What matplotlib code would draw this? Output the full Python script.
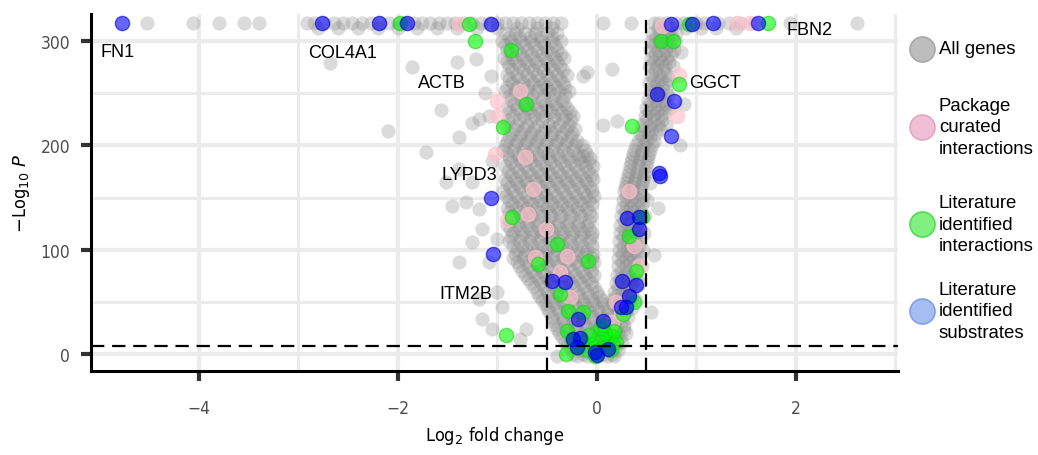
import matplotlib.pyplot as plt
from matplotlib.lines import Line2D
from matplotlib import font_manager as fm

# ---- data ----
top_y = 317
grey_top = [-4.52, -4.06, -3.79, -3.54, -3.39, -2.91, -2.84, -2.74, -2.64, -2.55, -2.46,
            -2.36, -2.27, -2.18, -2.09, -2.0, -1.92, -1.83, -1.75, -1.67, -1.58, -1.5,
            -1.42, -1.33, -1.25, -1.16, -1.08, -1.0, -0.92, -0.84, -0.76, -0.68, -0.6,
            -0.52, -0.44, -0.36, 0.06, 0.35, 0.58, 0.63, 0.7, 0.8, 0.88, 1.0, 1.08,
            1.22, 1.33, 1.45, 1.58, 1.94, 2.62]
grey_top2 = [-2.8, -2.6, -2.4, -2.2, -2.0, -1.8, -1.6, -1.4, -1.2, -1.0, -0.8, -0.6, -0.45,
             0.62, 0.75, 0.9, 1.05, 1.2, 1.4]

# rows of the dense grey cloud: (-log10 p, [log2 fold changes])
grey_rows = [
    (308, [-0.92, -0.82, -0.72, -0.62, -0.5, -0.4, 0.56, 0.64, 0.72, 0.8]),
    (304, [-0.88, -0.78, -0.67, -0.56, -0.45, 0.6, 0.68, 0.76]),
    (300, [-0.95, -0.86, -0.76, -0.66, -0.56, -0.45, -0.36, 0.55, 0.63, 0.71, 0.79]),
    (296, [-0.92, -0.83, -0.73, -0.63, -0.53, -0.42, 0.58, 0.66, 0.74]),
    (292, [-0.9, -0.8, -0.7, -0.6, -0.5, -0.4, 0.54, 0.62, 0.7, 0.78]),
    (288, [-0.86, -0.76, -0.66, -0.55, -0.45, -0.36, 0.59, 0.67, 0.75]),
    (284, [-0.93, -0.84, -0.74, -0.63, -0.52, -0.42, -0.33, 0.55, 0.63, 0.71]),
    (280, [-0.9, -0.81, -0.71, -0.61, -0.5, -0.4, 0.57, 0.65, 0.73]),
    (276, [-0.88, -0.78, -0.68, -0.58, -0.47, -0.37, 0.53, 0.61, 0.69, 0.77]),
    (272, [-0.85, -0.74, -0.64, -0.54, -0.44, -0.34, 0.59, 0.67]),
    (268, [-0.9, -0.8, -0.7, -0.6, -0.5, -0.4, -0.3, 0.55, 0.63, 0.71]),
    (264, [-0.88, -0.78, -0.67, -0.57, -0.47, -0.37, 0.57, 0.65, 0.73]),
    (260, [-0.85, -0.74, -0.64, -0.54, -0.44, -0.34, 0.53, 0.61, 0.69]),
    (256, [-0.9, -0.8, -0.69, -0.58, -0.51, -0.41, -0.32, 0.58, 0.66]),
    (252, [-0.92, -0.82, -0.7, -0.6, -0.48, -0.38, -0.28, 0.54, 0.62, 0.7]),
    (248, [-0.87, -0.76, -0.65, -0.53, -0.43, -0.32, 0.56, 0.64, 0.72]),
    (244, [-0.86, -0.76, -0.66, -0.55, -0.45, -0.35, 0.52, 0.6, 0.68]),
    (240, [-0.83, -0.73, -0.63, -0.52, -0.42, -0.33, 0.54, 0.62, 0.7]),
    (236, [-0.9, -0.8, -0.7, -0.6, -0.5, -0.4, -0.3, 0.5, 0.58, 0.66, 0.74]),
    (232, [-0.88, -0.77, -0.67, -0.57, -0.46, -0.36, -0.27, 0.53, 0.61, 0.69]),
    (228, [-0.84, -0.73, -0.63, -0.53, -0.43, -0.32, -0.24, 0.49, 0.57, 0.65]),
    (224, [-0.89, -0.78, -0.66, -0.55, -0.44, -0.34, -0.26, 0.5, 0.58, 0.66]),
    (220, [-0.92, -0.8, -0.7, -0.6, -0.48, -0.38, -0.28, 0.46, 0.54, 0.62, 0.7]),
    (216, [-0.83, -0.73, -0.63, -0.52, -0.42, -0.31, -0.22, 0.48, 0.56, 0.64]),
    (212, [-0.86, -0.76, -0.66, -0.55, -0.45, -0.35, -0.25, 0.44, 0.52, 0.6]),
    (208, [-0.88, -0.77, -0.67, -0.57, -0.46, -0.36, -0.26, 0.46, 0.54]),
    (204, [-0.9, -0.8, -0.7, -0.6, -0.5, -0.4, -0.3, -0.2, 0.42, 0.5, 0.58]),
    (200, [-0.92, -0.82, -0.72, -0.62, -0.52, -0.42, -0.32, -0.22, -0.15, 0.4, 0.48, 0.56]),
    (196, [-0.94, -0.84, -0.74, -0.64, -0.54, -0.44, -0.34, -0.24, -0.12, 0.38, 0.46, 0.54]),
    (192, [-0.9, -0.8, -0.7, -0.6, -0.5, -0.4, -0.3, -0.2, -0.1, 0.37, 0.45, 0.53]),
    (188, [-0.88, -0.78, -0.68, -0.58, -0.48, -0.38, -0.28, -0.18, -0.07, 0.36, 0.44, 0.52]),
    (184, [-0.86, -0.76, -0.66, -0.56, -0.46, -0.36, -0.26, -0.16, -0.08, 0.35, 0.43, 0.51]),
    (180, [-0.92, -0.82, -0.72, -0.62, -0.52, -0.42, -0.32, -0.22, -0.12, -0.04, 0.34, 0.42, 0.5]),
    (176, [-0.89, -0.79, -0.69, -0.59, -0.49, -0.39, -0.29, -0.19, -0.09, 0.33, 0.41, 0.49]),
    (172, [-0.86, -0.76, -0.66, -0.56, -0.46, -0.36, -0.26, -0.16, -0.06, 0.32, 0.4, 0.48]),
    (168, [-0.92, -0.82, -0.72, -0.62, -0.52, -0.42, -0.32, -0.22, -0.12, -0.04, 0.31, 0.39, 0.47]),
    (164, [-0.9, -0.8, -0.7, -0.6, -0.5, -0.4, -0.3, -0.2, -0.1, 0.3, 0.38, 0.46, 0.54]),
    (160, [-0.87, -0.77, -0.67, -0.57, -0.47, -0.37, -0.27, -0.17, -0.07, 0.29, 0.37, 0.45]),
    (156, [-0.94, -0.84, -0.74, -0.64, -0.54, -0.44, -0.34, -0.24, -0.14, -0.05, 0.28, 0.36, 0.44]),
    (152, [-0.91, -0.81, -0.71, -0.61, -0.51, -0.41, -0.31, -0.21, -0.11, -0.03, 0.3, 0.38, 0.47]),
    (148, [-0.88, -0.78, -0.68, -0.58, -0.48, -0.38, -0.28, -0.18, -0.08, 0.27, 0.35, 0.43, 0.51]),
    (144, [-0.85, -0.75, -0.65, -0.55, -0.45, -0.35, -0.25, -0.15, -0.05, 0.3, 0.38, 0.46]),
    (140, [-0.9, -0.8, -0.7, -0.6, -0.5, -0.4, -0.3, -0.2, -0.1, 0.26, 0.34, 0.42]),
    (136, [-0.88, -0.78, -0.68, -0.58, -0.48, -0.38, -0.28, -0.18, -0.08, 0.29, 0.37, 0.45]),
    (132, [-0.86, -0.76, -0.66, -0.56, -0.46, -0.36, -0.26, -0.16, -0.06, 0.25, 0.33, 0.41, 0.49]),
    (128, [-0.88, -0.78, -0.68, -0.58, -0.48, -0.38, -0.28, -0.18, -0.08, 0.28, 0.36, 0.44]),
    (124, [-0.9, -0.8, -0.7, -0.6, -0.5, -0.4, -0.3, -0.2, -0.1, 0.24, 0.32, 0.4]),
    (120, [-0.87, -0.77, -0.67, -0.57, -0.47, -0.37, -0.27, -0.17, -0.08, 0.28, 0.36, 0.44]),
    (116, [-0.84, -0.74, -0.64, -0.54, -0.44, -0.34, -0.24, -0.14, -0.05, 0.24, 0.32, 0.4, 0.48]),
    (112, [-0.86, -0.76, -0.66, -0.56, -0.46, -0.36, -0.26, -0.16, -0.06, 0.27, 0.35, 0.43]),
    (108, [-0.88, -0.78, -0.68, -0.58, -0.48, -0.38, -0.28, -0.18, -0.08, 0.23, 0.31, 0.39]),
    (104, [-0.84, -0.75, -0.65, -0.55, -0.45, -0.35, -0.25, -0.15, -0.05, 0.27, 0.35, 0.43]),
    (100, [-0.8, -0.7, -0.6, -0.5, -0.4, -0.3, -0.2, -0.1, 0.23, 0.31, 0.39, 0.47]),
    (96, [-0.82, -0.72, -0.62, -0.52, -0.42, -0.32, -0.22, -0.12, -0.04, 0.26, 0.34, 0.42]),
    (92, [-0.84, -0.74, -0.64, -0.54, -0.44, -0.34, -0.24, -0.14, -0.05, 0.22, 0.3, 0.38]),
    (88, [-0.8, -0.71, -0.61, -0.51, -0.41, -0.31, -0.21, -0.11, -0.03, 0.26, 0.34, 0.42]),
    (84, [-0.78, -0.68, -0.58, -0.48, -0.38, -0.28, -0.18, -0.08, 0.22, 0.3, 0.38, 0.46]),
    (80, [-0.75, -0.65, -0.55, -0.45, -0.35, -0.25, -0.15, -0.06, 0.25, 0.33, 0.41]),
    (76, [-0.72, -0.62, -0.52, -0.42, -0.32, -0.22, -0.12, -0.03, 0.21, 0.29, 0.37]),
    (72, [-0.69, -0.59, -0.49, -0.39, -0.29, -0.19, -0.09, 0.24, 0.32, 0.4]),
    (68, [-0.66, -0.56, -0.46, -0.36, -0.26, -0.16, -0.06, 0.2, 0.28, 0.36, 0.44]),
    (64, [-0.63, -0.53, -0.43, -0.33, -0.23, -0.13, -0.03, 0.22, 0.3, 0.38]),
    (60, [-0.6, -0.5, -0.4, -0.3, -0.2, -0.1, 0.0, 0.18, 0.26, 0.34]),
    (56, [-0.58, -0.48, -0.38, -0.28, -0.18, -0.08, 0.02, 0.2, 0.28, 0.36]),
    (52, [-0.55, -0.45, -0.35, -0.25, -0.15, -0.05, 0.05, 0.16, 0.24, 0.32, 0.4]),
    (48, [-0.52, -0.43, -0.33, -0.23, -0.13, -0.03, 0.07, 0.16, 0.24, 0.32]),
    (44, [-0.5, -0.4, -0.3, -0.2, -0.1, 0.0, 0.1, 0.2, 0.28, 0.36]),
    (40, [-0.48, -0.38, -0.28, -0.18, -0.08, 0.02, 0.12, 0.22, 0.3]),
    (36, [-0.45, -0.35, -0.25, -0.15, -0.05, 0.05, 0.15, 0.24, 0.32]),
    (32, [-0.44, -0.34, -0.24, -0.14, -0.04, 0.06, 0.16, 0.26]),
    (28, [-0.42, -0.32, -0.22, -0.12, -0.02, 0.08, 0.18, 0.28]),
    (24, [-0.4, -0.3, -0.2, -0.1, 0.0, 0.1, 0.2, 0.28]),
    (20, [-0.38, -0.28, -0.18, -0.08, 0.02, 0.12, 0.22, 0.3]),
    (16, [-0.35, -0.25, -0.15, -0.05, 0.05, 0.15, 0.24]),
    (12, [-0.32, -0.22, -0.12, -0.02, 0.08, 0.18, 0.26]),
    (8, [-0.3, -0.2, -0.1, 0.0, 0.1, 0.2]),
    (4, [-0.26, -0.16, -0.06, 0.04, 0.14, 0.22]),
    (0, [-0.24, -0.14, -0.04, 0.06, 0.16]),
    (-2, [-0.2, -0.1, 0.0, 0.1, 0.18]),
]

grey_sparse = [(-2.68, 279), (-1.85, 275), (-1.40, 280), (-1.21, 283), (-1.06, 267),
               (-1.56, 234), (-2.10, 214), (-1.71, 194), (-1.38, 208), (-1.25, 222),
               (-1.08, 228), (-1.18, 225), (-1.51, 165), (-1.38, 177), (-1.25, 165),
               (-1.45, 142), (-1.31, 146), (-1.18, 139), (-1.15, 120), (-1.25, 107),
               (-1.38, 88), (-1.08, 88), (-1.15, 34), (-1.05, 24), (-0.77, 14),
               (-0.71, 24), (-0.4, -2), (-1.18, 53), (-1.0, 60), (-0.95, 45),
               (-1.0, 110), (-1.05, 185), (-1.12, 250), (-0.1, 270), (0.16, 273),
               (0.06, 220), (-0.14, 190), (0.21, 223), (-0.14, 267), (0.85, 290),
               (0.88, 240), (0.84, 200), (0.62, 140), (0.58, 95), (0.55, 40)]

pink_pts = [(-1.38, 316), (0.66, 315), (1.41, 317), (1.54, 317), (0.83, 268), (0.81, 228),
            (-0.77, 252), (-1.0, 243), (-1.0, 228), (-1.02, 192), (-0.72, 189),
            (-0.64, 158), (-0.69, 134), (-0.9, 129), (-0.51, 120), (-0.3, 94),
            (-0.62, 93), (-0.37, 79), (-0.27, 55), (0.33, 156), (0.38, 104),
            (0.43, 84), (0.2, 50), (0.16, 31), (0.1, 24), (0.25, 38)]

green_pts = [(-1.98, 317), (-1.28, 316), (-1.22, 300), (-0.86, 292), (-0.71, 240),
             (-0.94, 218), (0.93, 316), (1.72, 317), (0.65, 300), (0.77, 300),
             (0.83, 259), (0.36, 219), (-0.85, 131), (-0.4, 106), (-0.59, 86),
             (-0.09, 89), (-0.91, 18), (0.4, 80), (0.46, 131), (0.33, 113),
             (-0.37, 58), (-0.29, 41), (-0.14, 40), (-0.3, 22), (-0.31, 0),
             (0.38, 50), (0.27, 38), (0.1, 14), (0.16, 17), (0.0, 14), (-0.05, 10),
             (0.05, 6), (0.12, 8), (-0.1, 4), (0.0, 2), (0.08, 20), (-0.15, 12),
             (0.2, 12), (0.15, 4), (-0.2, 6), (-0.25, 14), (0.03, 25), (-0.02, -2),
             (0.18, 22), (-0.08, 18), (0.06, 28)]

blue_pts = [(-4.77, 317), (-2.76, 317), (-2.19, 317), (-1.90, 317), (-1.06, 316),
            (0.75, 316), (0.96, 316), (1.17, 317), (1.62, 317), (0.61, 249),
            (0.78, 243), (0.75, 209), (0.63, 174), (0.64, 171), (0.31, 130),
            (0.43, 131), (0.43, 120), (-1.06, 150), (-1.04, 96), (-0.45, 70),
            (-0.32, 69), (0.26, 70), (0.4, 66), (0.33, 56), (0.25, 45), (0.3, 45),
            (-0.19, 34), (0.06, 32), (-0.24, 14), (-0.17, 15), (-0.2, 7),
            (-0.02, 2), (0.0, -1), (0.11, 5)]

gene_names = ['FN1', 'COL4A1', 'ACTB', 'LYPD3', 'ITM2B', 'GGCT', 'FBN2']
gene_x = [-4.81, -2.55, -1.55, -1.28, -1.31, 1.19, 2.14]
gene_y = [290, 289, 260, 172, 58, 260, 311]

legend_labels = ['All genes', 'Package\ncurated\ninteractions',
                 'Literature\nidentified\ninteractions', 'Literature\nidentified\nsubstrates']
legend_face = ['#bdbdbd', '#efbfd5', '#80f080', '#a5bdf0']
legend_edge = ['#a8a8a8', '#e3a6c4', '#50dd50', '#7f9fee']


def has_font(name):
    try:
        fm.findfont(fm.FontProperties(family=name), fallback_to_default=False)
        return True
    except Exception:
        return False


plt.rcParams['font.family'] = ['Liberation Sans', 'DejaVu Sans']
if has_font('Liberation Sans Narrow'):
    narrow = dict(family=['Liberation Sans Narrow', 'DejaVu Sans'])
    nsize = 12.5
else:
    narrow = dict(family=['DejaVu Sans'], stretch='condensed')
    nsize = 12.5

W, H = 1038, 456
fig = plt.figure(figsize=(W / 100, H / 100), dpi=100)
ax = fig.add_axes([0.0877, 0.184, 0.7775, 0.783])

gx = grey_top + grey_top2
gy = [top_y] * len(grey_top) + [top_y - 4] * len(grey_top2)
for yv, xs in grey_rows:
    gx += xs
    gy += [yv] * len(xs)
gx += [p[0] for p in grey_sparse]
gy += [p[1] for p in grey_sparse]

ms = 105
ax.scatter(gx, gy, s=ms, color='#8a8a8a', alpha=0.3, lw=0, zorder=2)
ax.scatter([p[0] for p in pink_pts], [p[1] for p in pink_pts], s=ms,
           facecolor='pink', edgecolor='pink', alpha=0.65, lw=1, zorder=3)
ax.scatter([p[0] for p in green_pts], [p[1] for p in green_pts], s=ms,
           facecolor='lime', edgecolor='#22cc22', alpha=0.6, lw=1, zorder=4)
ax.scatter([p[0] for p in blue_pts], [p[1] for p in blue_pts], s=ms,
           facecolor='blue', edgecolor='#0000cc', alpha=0.6, lw=1, zorder=5)

for name, x, y in zip(gene_names, gene_x, gene_y):
    ax.text(x, y, name, fontsize=13, ha='center', va='center', color='black', zorder=6)

# threshold lines
dash = (0, (6, 3.5))
ax.axvline(-0.5, color='black', lw=1.6, ls=dash, zorder=6)
ax.axvline(0.5, color='black', lw=1.6, ls=dash, zorder=6)
ax.axhline(7.3, color='black', lw=1.6, ls=dash, zorder=6)

ax.set_xlim(-5.08, 3.03)
ax.set_ylim(-16.3, 326)
ax.set_xticks([-4, -2, 0, 2])
ax.set_xticks([-3, -1, 1, 3], minor=True)
ax.set_yticks([0, 100, 200, 300])
ax.set_yticks([50, 150, 250], minor=True)
ax.grid(True, which='major', color='#ebebeb', lw=3)
ax.grid(True, which='minor', color='#ebebeb', lw=2.2)
ax.set_axisbelow(True)

for s in ['top', 'right']:
    ax.spines[s].set_visible(False)
for s in ['left', 'bottom']:
    ax.spines[s].set_linewidth(2.2)
    ax.spines[s].set_color('black')

ax.tick_params(which='major', length=7, width=3, color='#333333', labelcolor='#4d4d4d')
ax.tick_params(axis='x', which='major', pad=13)
ax.tick_params(axis='y', which='major', pad=8)
ax.tick_params(which='minor', length=0)
for lab in ax.get_xticklabels() + ax.get_yticklabels():
    lab.set_fontproperties(fm.FontProperties(size=nsize, **narrow))

ax.set_xlabel('Log$_2$ fold change', fontsize=nsize + 0.5, labelpad=5, **narrow)
ax.set_ylabel('$-$Log$_{10}$ $P$', fontsize=nsize + 0.5, labelpad=6, **narrow)

# legend drawn by hand at the reference positions (pixels from top-left)
key_px = 922
text_px = 939
key_rows = [50, 128, 225, 312]
for lab, fc, ec, py in zip(legend_labels, legend_face, legend_edge, key_rows):
    fy = 1 - py / H
    fig.add_artist(Line2D([key_px / W], [fy], transform=fig.transFigure, marker='o',
                          ls='', markersize=18, markerfacecolor=fc, markeredgecolor=ec,
                          markeredgewidth=1.2))
    fig.text(text_px / W, fy, lab, fontsize=13.4, ha='left', va='center', linespacing=1.32)

fig.savefig('out.png', dpi=100)
